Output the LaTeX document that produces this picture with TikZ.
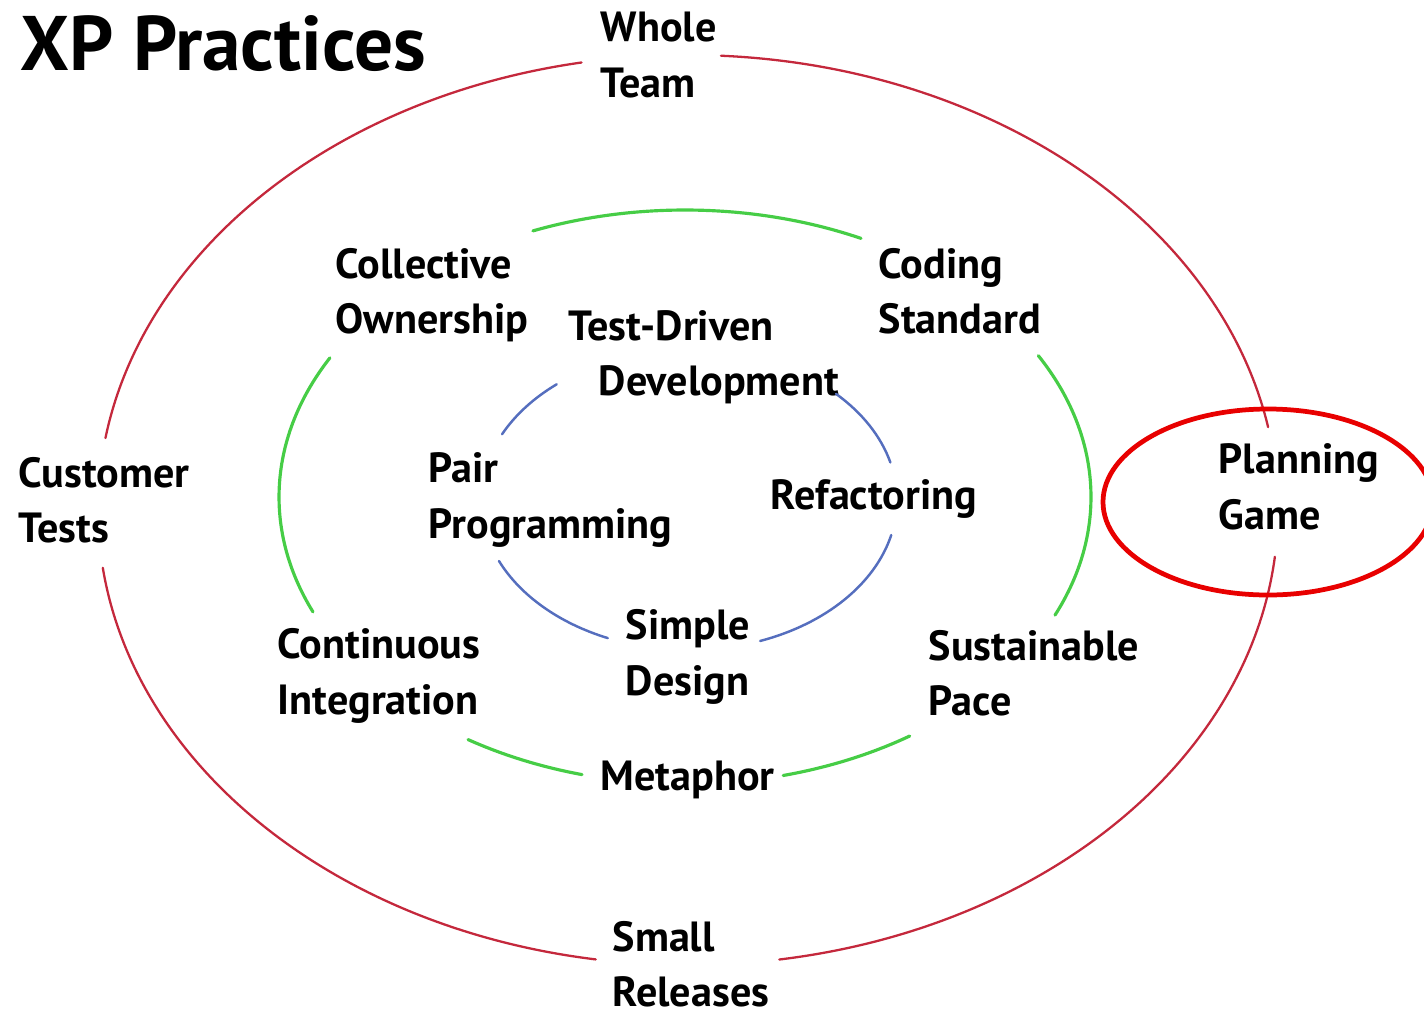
\documentclass[tikz,border=0pt]{standalone}
\usepackage{fontspec}
\setmainfont{PT Sans}
\usetikzlibrary{calc}
\definecolor{ringred}{RGB}{196,40,60}
\definecolor{ringgreen}{RGB}{70,205,70}
\definecolor{ringblue}{RGB}{85,110,190}
\definecolor{markred}{RGB}{232,0,0}

\begin{document}
\begin{tikzpicture}[%
        line cap = round,
        every node/.style = {inner sep = 0pt, anchor = west, align = left,
            font = \bfseries\fontsize{12}{15.8}\selectfont},
        outerring/.style = {draw = ringred, line width = 0.65pt},
        midring/.style = {draw = ringgreen, line width = 0.9pt},
        innerring/.style = {draw = ringblue, line width = 0.7pt},
        ]

\useasboundingbox[] (0,0) rectangle (14.24,10.18);
\clip (0,0) rectangle (14.24,10.18);
% \draw (0,0) grid (14,10);

\coordinate (O1) at (6.88,5.08);
\coordinate (O2) at (6.85,5.21);
\coordinate (O3) at (6.89,5.18);
\coordinate (O4) at (12.68,5.16);

\node (title) [font = \bfseries\fontsize{22}{26}\selectfont] at (0.2,9.74) {XP Practices};

\node (WT) at (6.00,9.63) {Whole\\Team};
\node (CT) at (0.18,5.18) {Customer\\Tests};
\node (PG) at (12.18,5.31) {Planning\\Game};
\node (SR) at (6.12,0.54) {Small\\Releases};

\node (CO) at (3.35,7.23) {Collective\\Ownership};
\node (CS) at (8.78,7.27) {Coding\\Standard};
\node (CI) at (2.77,3.42) {Continuous\\Integration};
\node (SP) at (9.28,3.45) {Sustainable\\Pace};
\node (MP) at (6.00,2.38) {Metaphor};

\node (TD) at (5.68,6.61) {Test-Driven\\\hspace{0.3cm}Development};
\node (PP) at (4.28,5.18) {Pair\\Programming};
\node (RF) at (7.70,5.19) {Refactoring};
\node (SD) at (6.25,3.61) {Simple\\Design};


\foreach \A/\B in {100.4/170.9, 86.8/10.5, -5.9/-81.1, 187.3/261}{
    \draw[outerring] (O1) ++(\A:5.9 and 4.55)
        arc[start angle = \A, end angle = \B, x radius = 5.9, y radius = 4.55];
    }

\foreach \A/\B in {112/64.3, 29.5/-24.3, -56.4/-76, 255.3/237.7, 203.6/151}{
    \draw[midring] (O2) ++(\A:4.06 and 2.87)
        arc[start angle = \A, end angle = \B, x radius = 4.06, y radius = 2.87];
    }

\foreach \A/\B in {129.5/154, 45/14.5, -13.5/-70, 247/204}{
    \draw[innerring] (O3) ++(\A:2.08 and 1.5)
        arc[start angle = \A, end angle = \B, x radius = 2.08, y radius = 1.5];
    }


\draw[markred, line width = 1.35pt] (O4) ellipse [x radius = 1.65, y radius = 0.93];

\end{tikzpicture}
\end{document}
